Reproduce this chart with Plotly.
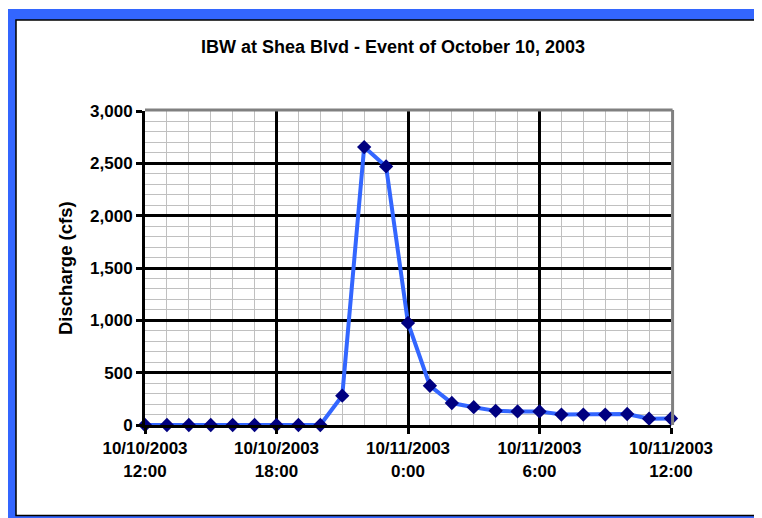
import plotly.graph_objects as go

# ---- data ----
times = [
    "2003-10-10 12:00", "2003-10-10 13:00", "2003-10-10 14:00", "2003-10-10 15:00",
    "2003-10-10 16:00", "2003-10-10 17:00", "2003-10-10 18:00", "2003-10-10 19:00",
    "2003-10-10 20:00", "2003-10-10 21:00", "2003-10-10 22:00", "2003-10-10 23:00",
    "2003-10-11 00:00", "2003-10-11 01:00", "2003-10-11 02:00", "2003-10-11 03:00",
    "2003-10-11 04:00", "2003-10-11 05:00", "2003-10-11 06:00", "2003-10-11 07:00",
    "2003-10-11 08:00", "2003-10-11 09:00", "2003-10-11 10:00", "2003-10-11 11:00",
    "2003-10-11 12:00",
]
discharge = [0, 0, 0, 0, 0, 0, 0, 0, 0, 280, 2655, 2470, 975, 375, 210, 170,
             135, 130, 130, 100, 100, 100, 105, 60, 62]

x_tick_vals = ["2003-10-10 12:00", "2003-10-10 18:00", "2003-10-11 00:00",
               "2003-10-11 06:00", "2003-10-11 12:00"]
x_tick_text = ["10/10/2003<br>12:00", "10/10/2003<br>18:00", "10/11/2003<br>0:00",
               "10/11/2003<br>6:00", "10/11/2003<br>12:00"]

title_text = "IBW at Shea Blvd - Event of October 10, 2003"
y_title = "Discharge (cfs)"

# ---- layout geometry (figure pixels; page body adds an 8px offset) ----
OFF = 8
W, H = 762 - OFF, 518 - OFF
L, R, T, B = 145 - OFF, 671 - OFF, 111 - OFF, 425 - OFF
pw, ph = R - L, B - T


def px(xp):
    return (xp - OFF - L) / pw


def py(yp):
    return (B - (yp - OFF)) / ph


FONT = "Liberation Sans, Arial, sans-serif"
FS = 17

fig = go.Figure()
fig.add_trace(go.Scatter(
    x=times, y=discharge, mode="lines+markers",
    line=dict(color="#3366FF", width=4),
    marker=dict(symbol="diamond", size=11, color="#000080", line=dict(width=0)),
    cliponaxis=False, showlegend=False,
))

shapes = [
    # blue outer frame
    dict(type="rect", xref="paper", yref="paper", x0=px(6), x1=px(800),
         y0=py(540), y1=py(9), fillcolor="#3366FF", line=dict(width=0), layer="below"),
    # white chart area with black edge
    dict(type="rect", xref="paper", yref="paper", x0=px(16), x1=px(820),
         y0=py(515.5), y1=py(20), fillcolor="white",
         line=dict(color="black", width=1.5), layer="below"),
    # gray plot-area border top and right
    dict(type="line", xref="paper", yref="paper", x0=0, x1=1.003, y0=1.003, y1=1.003,
         line=dict(color="#808080", width=3), layer="above"),
    dict(type="line", xref="paper", yref="paper", x0=1.003, x1=1.003, y0=0, y1=1.003,
         line=dict(color="#808080", width=3), layer="above"),
]

fig.update_layout(
    width=W, height=H,
    margin=dict(l=L, r=W - R, t=T, b=H - B),
    paper_bgcolor="white", plot_bgcolor="white",
    font=dict(family=FONT, color="black"),
    title=dict(text=title_text, x=(393 - OFF) / W, xanchor="center",
               y=1 - (47 - OFF) / H, yanchor="middle",
               font=dict(family=FONT, size=18, weight="bold", color="black")),
    shapes=shapes,
    annotations=[dict(text=y_title, xref="paper", yref="paper", x=px(65), y=0.5,
                      textangle=-90, showarrow=False, xanchor="center", yanchor="middle",
                      font=dict(family=FONT, size=18.5, weight="bold", color="black"))],
    xaxis=dict(
        type="date", range=["2003-10-10 12:00", "2003-10-11 12:00"],
        tickmode="array", tickvals=x_tick_vals, ticktext=x_tick_text,
        tickfont=dict(family=FONT, size=FS, weight="bold", color="black"),
        showline=True, linecolor="black", linewidth=3,
        ticks="outside", ticklen=6, tickwidth=3, tickcolor="black",
        showgrid=True, gridcolor="black", gridwidth=3,
        minor=dict(dtick=3600000, tick0="2003-10-10 12:00", showgrid=True,
                   gridcolor="#c0c0c0", gridwidth=1, ticks=""),
        zeroline=False, fixedrange=True,
    ),
    yaxis=dict(
        range=[0, 3000], tickmode="linear", tick0=0, dtick=500, tickformat=",",
        tickfont=dict(family=FONT, size=FS, weight="bold", color="black"),
        showline=True, linecolor="black", linewidth=3,
        ticks="outside", ticklen=6, tickwidth=3, tickcolor="black",
        showgrid=True, gridcolor="black", gridwidth=3,
        minor=dict(dtick=100, showgrid=True, gridcolor="#c0c0c0", gridwidth=1, ticks=""),
        zeroline=False, fixedrange=True,
    ),
)

fig.write_html("out.html")
